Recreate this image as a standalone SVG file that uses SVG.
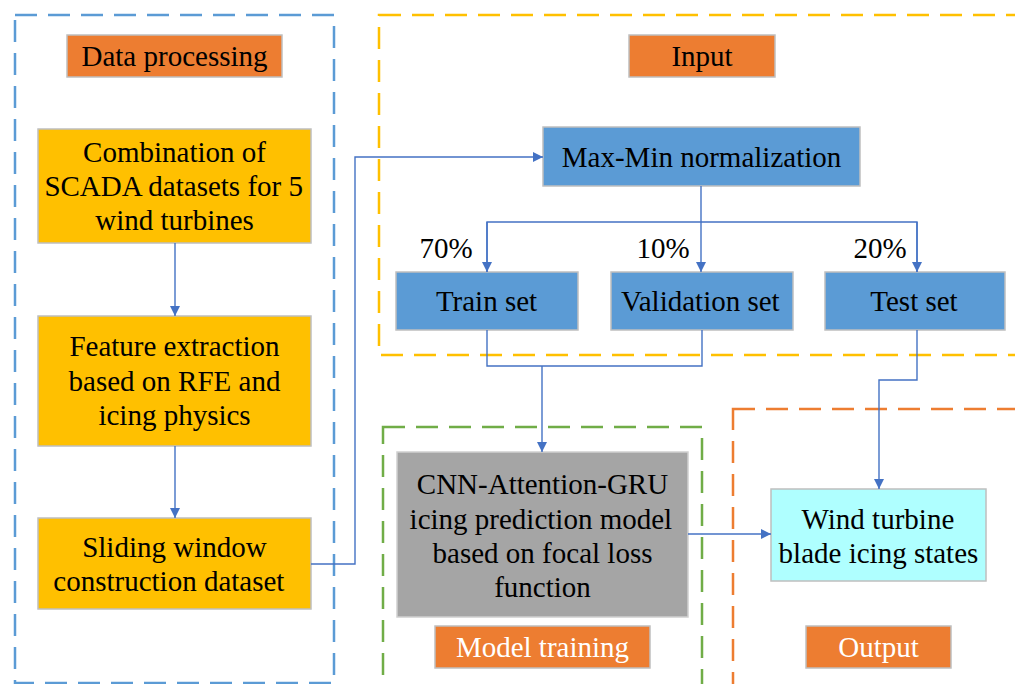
<svg xmlns="http://www.w3.org/2000/svg" width="1015" height="684" viewBox="0 0 1015 684">
<defs>
<marker id="ah" viewBox="0 0 10 10" refX="10" refY="5" markerWidth="12" markerHeight="10" markerUnits="userSpaceOnUse" orient="auto">
<path d="M0,0 L10,5 L0,10 z" fill="#4472C4"/>
</marker>
</defs>
<rect width="1015" height="684" fill="#fff"/>
<g id="groups" fill="none" stroke-width="2.5" stroke-dasharray="22 11">
<rect x="15" y="15" width="319" height="668" stroke="#5B9BD5"/>
<rect x="379" y="15" width="700" height="340" stroke="#FFC000"/>
<rect x="383" y="427" width="319" height="300" stroke="#70AD47"/>
<rect x="733" y="409" width="400" height="320" stroke="#ED7D31"/>
</g>
<g id="label-data-processing"><rect fill="#ED7D31" stroke="#BFBFBF" stroke-width="1.5" x="67" y="35" width="215" height="42"/><text x="81.5" y="66" font-family="Liberation Serif" font-size="29">Data processing</text></g>
<g id="label-input"><rect fill="#ED7D31" stroke="#BFBFBF" stroke-width="1.5" x="629" y="35" width="146" height="42"/><text x="671.4" y="66" font-family="Liberation Serif" font-size="29">Input</text></g>
<g id="label-model-training"><rect fill="#ED7D31" stroke="#BFBFBF" stroke-width="1.5" x="435" y="626" width="215" height="42"/><text x="455.9" y="657" font-family="Liberation Serif" font-size="29" fill="#fff">Model training</text></g>
<g id="label-output"><rect fill="#ED7D31" stroke="#BFBFBF" stroke-width="1.5" x="806" y="626" width="145" height="42"/><text x="838.2" y="657" font-family="Liberation Serif" font-size="29" fill="#fff">Output</text></g>
<g id="combination"><rect fill="#FFC000" stroke="#BFBFBF" stroke-width="1.5" x="38" y="129" width="273" height="114"/>
<text x="83.1" y="162" font-family="Liberation Serif" font-size="29">Combination of</text>
<text x="44.4" y="196" font-family="Liberation Serif" font-size="29">SCADA datasets for 5</text>
<text x="95.2" y="230" font-family="Liberation Serif" font-size="29">wind turbines</text></g>
<g id="feature"><rect fill="#FFC000" stroke="#BFBFBF" stroke-width="1.5" x="38" y="316" width="273" height="130"/>
<text x="69.4" y="356" font-family="Liberation Serif" font-size="29">Feature extraction</text>
<text x="68.6" y="391" font-family="Liberation Serif" font-size="29">based on RFE and</text>
<text x="98.4" y="425" font-family="Liberation Serif" font-size="29">icing physics</text></g>
<g id="sliding"><rect fill="#FFC000" stroke="#BFBFBF" stroke-width="1.5" x="38" y="518" width="273" height="91"/>
<text x="82.2" y="557" font-family="Liberation Serif" font-size="29">Sliding window</text>
<text x="53.3" y="591" font-family="Liberation Serif" font-size="29">construction dataset</text></g>
<g id="maxmin"><rect fill="#5B9BD5" stroke="#BFBFBF" stroke-width="1.5" x="543" y="127" width="317" height="59"/><text x="561.8" y="167" font-family="Liberation Serif" font-size="29">Max-Min normalization</text></g>
<g id="train"><rect fill="#5B9BD5" stroke="#BFBFBF" stroke-width="1.5" x="396" y="272" width="182" height="58"/><text x="435.9" y="311" font-family="Liberation Serif" font-size="29">Train set</text></g>
<g id="validation"><rect fill="#5B9BD5" stroke="#BFBFBF" stroke-width="1.5" x="611" y="272" width="182" height="58"/><text x="621" y="311" font-family="Liberation Serif" font-size="29">Validation set</text></g>
<g id="test"><rect fill="#5B9BD5" stroke="#BFBFBF" stroke-width="1.5" x="825" y="272" width="180" height="58"/><text x="870.3" y="311" font-family="Liberation Serif" font-size="29">Test set</text></g>
<g id="cnn"><rect fill="#A5A5A5" stroke="#D0D0D0" stroke-width="1.5" x="397" y="452" width="291" height="165"/>
<text x="416.8" y="494" font-family="Liberation Serif" font-size="29">CNN-Attention-GRU</text>
<text x="409.6" y="529" font-family="Liberation Serif" font-size="29">icing prediction model</text>
<text x="432.6" y="563" font-family="Liberation Serif" font-size="29">based on focal loss</text>
<text x="494.2" y="597" font-family="Liberation Serif" font-size="29">function</text></g>
<g id="wind"><rect fill="#AFFFFF" stroke="#BFBFBF" stroke-width="1.5" x="771" y="489" width="215" height="92"/>
<text x="801.6" y="529" font-family="Liberation Serif" font-size="29">Wind turbine</text>
<text x="778.6" y="563" font-family="Liberation Serif" font-size="29">blade icing states</text></g>
<g id="connectors" fill="none" stroke="#4472C4" stroke-width="1.4">
<line x1="175" y1="243" x2="175" y2="316" marker-end="url(#ah)"/>
<line x1="175" y1="446" x2="175" y2="518" marker-end="url(#ah)"/>
<polyline points="311,564 355,564 355,157 543,157" marker-end="url(#ah)"/>
<line x1="701" y1="186" x2="701" y2="272" marker-end="url(#ah)"/>
<polyline points="487,272 487,222 917,222 917,272"/>
<line x1="487" y1="222" x2="487" y2="272" marker-end="url(#ah)"/>
<line x1="917" y1="222" x2="917" y2="272" marker-end="url(#ah)"/>
<polyline points="487,330 487,366 702,366 702,330"/>
<line x1="542" y1="366" x2="542" y2="452" marker-end="url(#ah)"/>
<polyline points="917,330 917,380 879,380 879,489" marker-end="url(#ah)"/>
<line x1="688" y1="534" x2="771" y2="534" marker-end="url(#ah)"/>
</g>
<g id="percent-labels">
<text x="419.4" y="258" font-family="Liberation Serif" font-size="29">70%</text>
<text x="636.4" y="258" font-family="Liberation Serif" font-size="29">10%</text>
<text x="853.4" y="258" font-family="Liberation Serif" font-size="29">20%</text>
</g>
</svg>
